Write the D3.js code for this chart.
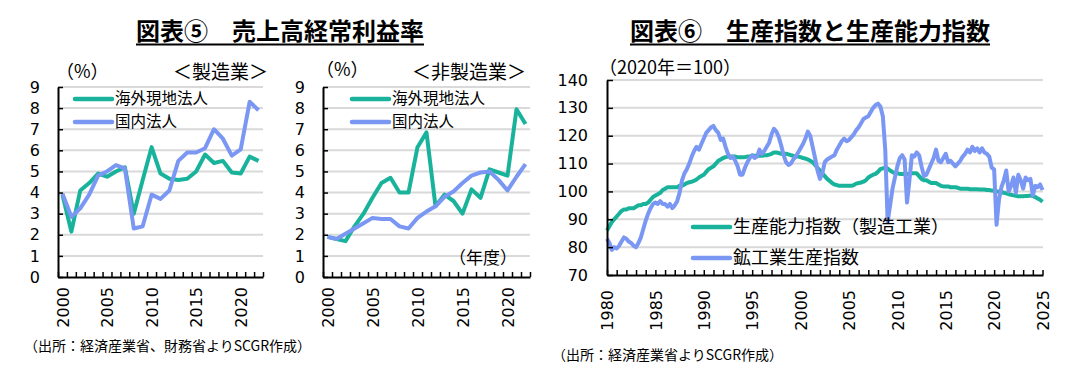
<!DOCTYPE html>
<meta charset="utf-8">
<head>
<script src="https://d3js.org/d3.v7.min.js"></script>
<style>
body { margin: 0; background: #fff; }
svg { display: block; }
.jp { font-family: "Noto Sans CJK JP", sans-serif; fill: #000; }
.axis text { font-family: "DejaVu Sans", sans-serif; font-size: 16px; fill: #000; }
.axis path { stroke: #000; stroke-width: 2; }
.axis line { stroke: #000; stroke-width: 1.5; }
.grid line { stroke: #d9d9d9; stroke-width: 2; }
</style>
</head>
<body>
<script>

// fiscal years for chart 5
var fyYears = [2000, 2001, 2002, 2003, 2004, 2005, 2006, 2007, 2008, 2009, 2010,
               2011, 2012, 2013, 2014, 2015, 2016, 2017, 2018, 2019, 2020, 2021, 2022];

// recurring profit / sales (%), manufacturing
var mfgOverseas = [3.9, 2.15, 4.1, 4.45, 4.9, 4.75, 5.0, 5.2, 3.0, 4.6, 6.15, 4.9,
                   4.65, 4.6, 4.65, 5.0, 5.8, 5.4, 5.5, 4.95, 4.9, 5.7, 5.5];
var mfgDomestic = [3.95, 2.85, 3.25, 3.9, 4.8, 5.0, 5.3, 5.15, 2.3, 2.4, 3.9, 3.7,
                   4.1, 5.5, 5.9, 5.9, 6.1, 7.0, 6.55, 5.75, 6.05, 8.3, 7.9];

// non-manufacturing
var nonOverseas = [1.9, 1.8, 1.7, 2.4, 3.0, 3.75, 4.45, 4.7, 4.0, 4.0, 6.15, 6.85,
                   3.35, 3.9, 3.6, 3.0, 4.15, 3.75, 5.1, 4.95, 4.8, 7.95, 7.25];
var nonDomestic = [1.9, 1.8, 2.05, 2.3, 2.55, 2.8, 2.75, 2.75, 2.4, 2.3, 2.8, 3.1,
                   3.35, 3.8, 4.05, 4.45, 4.8, 4.95, 5.0, 4.6, 4.1, 4.75, 5.35];

var ratioTicks = [0, 1, 2, 3, 4, 5, 6, 7, 8, 9];
var fyLabels = [2000, 2005, 2010, 2015, 2020];

// chart 6: quarterly, 1980Q1 .. 2025Q1 (2020=100)
var ipStart = 1980;
var ipIndex = [
  83, 81.5, 79, 80,   79.5, 80.5, 82, 83.5,   83, 82, 81.5, 80.5,   80, 81.5, 83.5, 86.5,
  89.5, 92, 94, 95.5,   96, 95.5, 96.5, 95.5,   95.5, 94.5, 95.5, 94,   95, 96.5, 99.5, 104,
  106.5, 108, 110, 112.5,   114.5, 116, 115, 117,   119, 121, 122, 123,   123.5, 122, 121, 118.5,
  119, 116, 113.5, 112,   112.5, 111, 109, 106,   106, 108.5, 110.5, 112,   113, 112, 112.5, 115,
  113.5, 114.5, 116, 117.5,   120.5, 122.5, 121.5, 119.5,   116.5, 113, 110.5, 109.5,   110, 111.5, 112.5, 114,
  115.5, 117, 119, 121.5,   120, 116, 112, 107.5,   104.5, 106.5, 110.5, 111.5,   112, 112.5, 113, 115,
  116.5, 118, 119, 118,   118.5, 119.5, 120.5, 122,   123, 124.5, 126, 126.5,   127, 128.5, 130, 131,
  131.5, 130.5, 127, 115,   89, 95, 101, 105,   109, 112, 113, 111.5,   96, 104, 113, 112.5,
  114, 113, 109, 105.5,   106, 108, 110, 112,   115, 111, 110.5, 112,   113.5, 110.5, 111, 110,
  109, 110, 111, 112.5,   113.5, 115, 114, 116,   114.5, 115.5, 114, 115.5,   114, 113.5, 112.5, 108.5,
  108, 88, 97, 101.5,   104, 107.5, 100, 102,   105, 99.5, 106, 104,   101, 105, 104, 104.5,
  98.5, 102, 101.5, 102.5,   100.5
];
var capacityIndex = [
  86, 87.5, 89, 90,   91, 92, 93, 93.5,   93.5, 94, 94, 94,   94.5, 95, 95, 95.5,
  95.5, 96, 97, 98,   98.5, 99, 99.5, 100.5,   101, 101.5, 101.5, 101.5,   101.5, 101.5, 102, 102,
  102.5, 103, 103.3, 103.5,   103.8, 104.3, 105, 105.5,   106, 107, 108, 108.5,   109, 110, 111, 111.5,
  112, 112.3, 112.5, 112.5,   112.5, 112.5, 112.3, 112.3,   112.3, 112.3, 112.5, 112.5,   112.8, 112.8, 112.8, 112.8,
  112.8, 113, 113, 113.2,   113.5, 114, 114, 113.8,   113.5, 113.5, 113.5, 113.3,   113, 112.8, 112.5, 112.5,
  112.3, 112, 111.8, 111.5,   111, 110.5, 109.5, 108.5,   107.5, 106.5, 105.5, 104.5,   103.8, 103, 102.5, 102.3,
  102, 102, 102, 102,   102, 102, 102.3, 102.8,   103, 103.2, 103.5, 104,   105, 105.5, 106, 106.3,
  107, 108, 108.3, 108.3,   108.2, 107.5, 107, 106.5,   106.5, 106.3, 106.3, 106.3,   106.3, 106.3, 106.5, 106.5,
  106.5, 105.5, 104.5, 104,   104, 103.5, 103, 103,   103, 102.5, 102, 101.8,   101.8, 101.8, 101.5, 101.5,
  101.5, 101.3, 101, 101,   101, 101, 100.8, 100.8,   100.8, 100.8, 100.7, 100.7,   100.7, 100.5, 100.5, 100.3,
  100.2, 100, 100, 99.8,   99.5, 99.3, 99, 98.8,   98.6, 98.4, 98.3, 98.3,   98.3, 98.4, 98.4, 98.5,
  98.3, 98, 97.5, 97,   96.3
];
var indexTicks = [70, 80, 90, 100, 110, 120, 130, 140];
var yearLabels = [1980, 1985, 1990, 1995, 2000, 2005, 2010, 2015, 2020, 2025];

var green = "#19b39b", blue = "#7b97f4";

var svg = d3.select("body").append("svg")
    .attr("width", 1072)
    .attr("height", 385);

svg.append("rect").attr("width", 1072).attr("height", 385).attr("fill", "#fff");

// underlined title
function title(cx, text) {
  var t = svg.append("text")
      .attr("class", "jp")
      .attr("x", cx).attr("y", 40)
      .attr("text-anchor", "middle")
      .style("font-size", "24px")
      .style("font-weight", "bold")
      .text(text);
  var b = t.node().getBBox();
  svg.append("line")
      .attr("x1", b.x).attr("x2", b.x + b.width)
      .attr("y1", 44.5).attr("y2", 44.5)
      .attr("stroke", "#000").attr("stroke-width", 2);
}

function label(x, y, text, size, anchor) {
  svg.append("text")
      .attr("class", "jp")
      .attr("x", x).attr("y", y)
      .attr("dy", "0.35em")
      .attr("text-anchor", anchor || "start")
      .style("font-size", size + "px")
      .text(text);
}

function legend(x, y, color, text, size) {
  svg.append("line")
      .attr("x1", x).attr("x2", x + 37)
      .attr("y1", y).attr("y2", y)
      .attr("stroke", color).attr("stroke-width", 4.5)
      .attr("stroke-linecap", "round");
  label(x + 40, y, text, size);
}

// rotated year labels under an x axis
function yearAxis(scale, values, top) {
  var ax = svg.append("g")
      .attr("class", "axis")
      .attr("transform", "translate(0," + top + ")")
      .call(d3.axisBottom(scale).tickValues(values).tickSize(0).tickFormat(d3.format("d")));
  ax.select(".domain").remove();
  ax.selectAll("text")
      .attr("transform", "rotate(-90)")
      .attr("x", 0).attr("y", 0)
      .attr("dy", "0.36em")
      .style("text-anchor", "end");
}

// ---- chart 5 : two small panels ----
function ratioPanel(x0, x1, overseas, domestic) {
  var x = d3.scaleLinear().domain([1999.5, 2022.5]).range([x0, x1]);
  var y = d3.scaleLinear().domain([0, 9]).range([277, 87]);

  svg.append("g").attr("class", "grid")
    .selectAll("line").data(ratioTicks.slice(1)).join("line")
      .attr("x1", x0).attr("x2", x1)
      .attr("y1", d => y(d)).attr("y2", d => y(d));

  var line = d3.line().x((d, i) => x(fyYears[i])).y(d => y(d));
  svg.append("path").datum(overseas)
      .attr("fill", "none").attr("stroke", green).attr("stroke-width", 4)
      .attr("stroke-linejoin", "round").attr("d", line);
  svg.append("path").datum(domestic)
      .attr("fill", "none").attr("stroke", blue).attr("stroke-width", 4)
      .attr("stroke-linejoin", "round").attr("d", line);

  svg.append("g").attr("class", "axis")
      .attr("transform", "translate(" + x0 + ",0)")
      .call(d3.axisLeft(y).tickValues(ratioTicks).tickSize(-5).tickSizeOuter(0).tickPadding(18));

  svg.append("g").attr("class", "axis")
      .attr("transform", "translate(0,277)")
      .call(d3.axisBottom(x).tickValues(d3.range(1999.5, 2023, 1)).tickSize(-5).tickSizeOuter(0).tickFormat(""));

  yearAxis(x, fyLabels, 287);
}

title(280, "図表⑤　売上高経常利益率");

ratioPanel(58, 263, mfgOverseas, mfgDomestic);
label(56, 72, "（%）", 18);
label(268, 72, "＜製造業＞", 19, "end");
legend(75, 99, green, "海外現地法人", 15.5);
legend(75, 122, blue, "国内法人", 15.5);

ratioPanel(323, 530, nonOverseas, nonDomestic);
label(316, 70, "（%）", 18);
label(526, 72, "＜非製造業＞", 19, "end");
legend(352, 99, green, "海外現地法人", 15.5);
legend(352, 122, blue, "国内法人", 15.5);
label(517, 258, "（年度）", 17, "end");

label(24, 346, "（出所：経済産業省、財務省よりSCGR作成）", 14);

// ---- chart 6 : production index and capacity ----
title(810, "図表⑥　生産指数と生産能力指数");

var x6 = d3.scaleLinear().domain([1980, 2025.05]).range([607, 1043]);
var y6 = d3.scaleLinear().domain([70, 140]).range([275, 80]);

svg.append("g").attr("class", "grid")
  .selectAll("line").data(indexTicks.slice(1)).join("line")
    .attr("x1", 607).attr("x2", 1043)
    .attr("y1", d => y6(d)).attr("y2", d => y6(d));

var qLine = d3.line().x((d, i) => x6(ipStart + i / 4)).y(d => y6(d));
svg.append("path").datum(capacityIndex)
    .attr("fill", "none").attr("stroke", green).attr("stroke-width", 4)
    .attr("stroke-linejoin", "round").attr("d", qLine);
svg.append("path").datum(ipIndex)
    .attr("fill", "none").attr("stroke", blue).attr("stroke-width", 4)
    .attr("stroke-linejoin", "round").attr("d", qLine);

svg.append("g").attr("class", "axis")
    .attr("transform", "translate(607,0)")
    .call(d3.axisLeft(y6).tickValues(indexTicks).tickSize(-6).tickSizeOuter(0).tickPadding(19));

svg.append("g").attr("class", "axis")
    .attr("transform", "translate(0,275)")
    .call(d3.axisBottom(x6).tickValues(d3.range(1980, 2026, 1)).tickSize(-5).tickSizeOuter(0).tickFormat(""));

yearAxis(x6, yearLabels, 290);

label(599, 68, "（2020年＝100）", 18);
legend(693, 227, green, "生産能力指数（製造工業）", 18);
legend(693, 258, blue, "鉱工業生産指数", 18);

label(552, 355, "（出所：経済産業省よりSCGR作成）", 14);

</script>
</body>
